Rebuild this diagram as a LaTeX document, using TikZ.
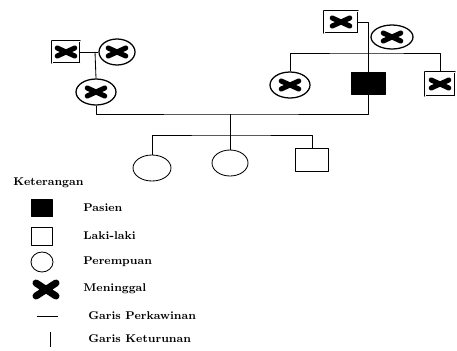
\documentclass[tikz,border=0pt]{standalone}
\usetikzlibrary{positioning, shapes.geometric}

\tikzset{
    laki/.style={draw, rectangle, inner sep=0pt, minimum width=34*0.025cm, minimum height=22*0.025cm},
    pr/.style={draw, ellipse, inner sep=0pt, minimum width=40*0.025cm, minimum height=26*0.025cm},
    pasien/.style={laki, fill=black},
    mati/.style={path picture={
        \draw[line width=3.6pt, line cap=round]
            ([shift={(-0.22cm,0.1cm)}]path picture bounding box.center) -- ([shift={(0.22cm,-0.1cm)}]path picture bounding box.center)
            ([shift={(-0.22cm,-0.1cm)}]path picture bounding box.center) -- ([shift={(0.22cm,0.1cm)}]path picture bounding box.center);
    }},
    lakimati/.style={laki, double, double distance=0.7pt, mati},
    prmati/.style={pr, line width=0.9pt, mati},
    ket/.style={font=\fontsize{8}{9}\selectfont\bfseries, anchor=west, inner sep=0pt},
}

\begin{document}
\begin{tikzpicture}[x=0.025cm, y=-0.025cm, line join=round, semithick]
    \useasboundingbox (0,0) rectangle (457,350);

    % kakek nenek dari ibu
    \node[lakimati, minimum width=28*0.025cm] (kakekI) at (66,52) {};
    \node[prmati, minimum width=36*0.025cm] (nenekI) at (117,52) {};
    \node[prmati] (ibu) at (96,92) {};

    % kakek nenek dari ayah
    \node[lakimati] (kakekA) at (341,22) {};
    \node[prmati, minimum width=42*0.025cm, minimum height=24*0.025cm] (nenekA) at (392,37) {};
    \node[prmati] (bibi) at (290,85) {};
    \node[pasien] (ayah) at (368,83) {};
    \node[lakimati, minimum width=30*0.025cm, minimum height=24*0.025cm] (paman) at (440,84) {};

    % anak
    \node[pr, minimum width=38*0.025cm] (anak1) at (152,168) {};
    \node[pr, minimum width=36*0.025cm] (anak2) at (230,163) {};
    \node[laki, minimum width=33*0.025cm, minimum height=23*0.025cm] (anak3) at (312,160) {};

    \coordinate (kawinI) at (95,52);
    \coordinate (kawinA) at (368,22);
    \coordinate (sibA) at (368,53);
    \coordinate (kawin) at (230,114);
    \coordinate (sib) at (230,135);

    \draw (kakekI.east) -- (nenekI.west);
    \draw (kawinI) -- (ibu.north);
    \draw (kakekA.east) -- (kawinA) -- (ayah.north);
    \draw (bibi.north) |- (sibA) -| (paman.north);
    \draw (ibu.south) |- (kawin) -| (ayah.south);
    \draw (kawin) -- (anak2.north);
    \draw (anak1.north) |- (sib) -| (anak3.north);

    % keterangan
    \node[ket] (judul) at (13,183) {Keterangan};
    \node[pasien, minimum width=21*0.025cm, minimum height=17*0.025cm] (kPasien) at (42,208) {};
    \node[laki, minimum width=21*0.025cm, minimum height=18*0.025cm] (kLaki) at (42,236) {};
    \node[pr, minimum width=22*0.025cm, minimum height=20*0.025cm] (kPr) at (42,262) {};
    \draw[line width=5pt, line cap=round] (36,283) -- (56,296) (36,296) -- (56,283);
    \draw (37,316) -- (58,316);
    \draw (50,332) -- (50,347);

    \foreach \x/\y/\teks in {83/208/Pasien, 83/236/Laki-laki, 83/262/Perempuan, 83/289/Meninggal, 88/316/Garis Perkawinan, 88/339/Garis Keturunan} {
        \node[ket] (k\y) at (\x,\y) {\teks};
    }
\end{tikzpicture}
\end{document}
